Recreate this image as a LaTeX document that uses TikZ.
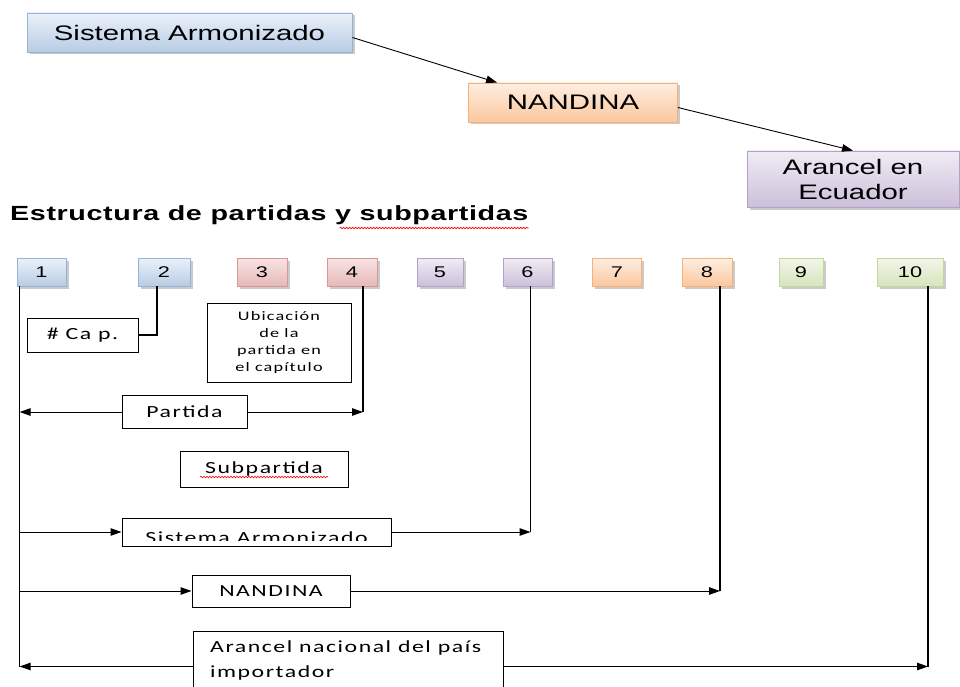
\documentclass[tikz,border=0pt]{standalone}
\usepackage{fontspec}
\setmainfont{Liberation Sans}
\newfontfamily\arialw[FakeStretch=1.4]{Liberation Sans}
\newfontfamily\arialt[FakeStretch=1.4,LetterSpace=3]{Liberation Sans}
\newfontfamily\calw[FakeStretch=1.4,LetterSpace=9]{Carlito}
\usetikzlibrary{arrows.meta,shadows,decorations.pathmorphing}

\definecolor{bluT}{HTML}{EBF1FA}\definecolor{bluB}{HTML}{B8CCE4}\definecolor{bluD}{HTML}{95B3D7}
\definecolor{rdT}{HTML}{F8E4E3}\definecolor{rdB}{HTML}{E6B9B8}\definecolor{rdD}{HTML}{D99694}
\definecolor{vioT}{HTML}{F0ECF5}\definecolor{vioB}{HTML}{CCC0DA}\definecolor{vioD}{HTML}{B3A2C7}
\definecolor{oraT}{HTML}{FEEEE2}\definecolor{oraB}{HTML}{FBC79D}\definecolor{oraD}{HTML}{F9B074}
\definecolor{grnT}{HTML}{F1F6E8}\definecolor{grnB}{HTML}{D7E4BD}\definecolor{grnD}{HTML}{C3D69B}

\tikzset{
  fancy/.style={top color=#1T, bottom color=#1B, draw=#1D, line width=0.8pt,
    drop shadow={shadow xshift=2.5pt, shadow yshift=-2.5pt, fill=black!35, opacity=0.6}},
  topbox/.style={fancy=#1, font=\arialw\fontsize{21}{25}\selectfont, inner sep=0pt, align=center},
  numbox/.style={fancy=#1, font=\arialw\fontsize{15.5}{17}\selectfont, minimum height=28pt, inner sep=0pt},
  plainbox/.style={draw, line width=1pt, font=\calw\fontsize{17}{25}\selectfont, inner sep=0pt},
  conn/.style={-{Triangle[length=11pt,width=7.5pt]}, line width=1pt},
  bar/.style={line width=1.2pt},
  wavy/.style={red, line width=0.6pt, decorate, decoration={snake, amplitude=0.8pt, segment length=3pt}}
}

\begin{document}
\begin{tikzpicture}[x=1pt,y=-1pt]
    \useasboundingbox (0,0) rectangle (960,687);

    % Top chain
    \node[topbox=blu, minimum width=325pt, minimum height=39pt] (sa) at (189.5,32.5) {Sistema Armonizado};
    \node[topbox=ora, minimum width=209pt, minimum height=39pt] (nandina) at (573,102.5) {NANDINA};
    \node[topbox=vio, minimum width=212pt, minimum height=56pt] (arancel) at (853,179) {Arancel en\\Ecuador};
    \draw[conn, line width=0.9pt] ([yshift=-5pt]sa.east) -- ([xshift=29pt]nandina.north west);
    \draw[conn, line width=0.9pt] ([yshift=-5pt]nandina.east) -- (arancel.north);

    % Title
    \node[anchor=base west, inner sep=0pt, font=\arialt\bfseries\fontsize{20.5}{24}\selectfont] (titulo) at (10,220)
        {Estructura de partidas y subpartidas};
    \draw[wavy] ([xshift=-189pt,yshift=-8pt]titulo.base east) -- ([yshift=-8pt]titulo.base east);

    % Digit boxes
    \foreach \num/\cx/\bw/\col in {1/41.5/49/blu, 2/164/52/blu, 3/262/50/rd, 4/352/50/rd, 5/440/46/vio,
        6/527.5/49/vio, 7/617/49/ora, 8/707/50/ora, 9/801/44/grn, 10/910/66/grn}
        \node[numbox=\col, minimum width=\bw pt] (n\num) at (\cx,272) {\num};

    % Labels
    \node[plainbox, minimum width=111pt, minimum height=34pt] (cap) at (82.5,335) {\# Ca p.};
    \node[plainbox, minimum width=144pt, minimum height=79pt, align=center,
        font=\calw\fontsize{13}{17}\selectfont] (ubic) at (279,342.5) {Ubicación\\de la\\partida en\\el capítulo};
    \node[plainbox, minimum width=125pt, minimum height=33pt] (partida) at (184.5,412) {Partida};
    \node[plainbox, minimum width=168pt, minimum height=36pt] (subp) at (264,469) {Subpartida};
    \draw[wavy] ([xshift=-64pt,yshift=-8pt]subp.center) -- ([xshift=64pt,yshift=-8pt]subp.center);
    \node[plainbox, minimum width=269pt, minimum height=28pt] (sa2) at (256.5,532) {};
    \begin{scope}
        \clip (sa2.north west) rectangle ([yshift=6pt]sa2.south east);
        \node[font=\calw\fontsize{17}{20}\selectfont, anchor=base] at ([yshift=-11pt]sa2.center) {Sistema Armonizado};
    \end{scope}
    \node[plainbox, minimum width=158pt, minimum height=32pt] (nan2) at (271,591) {NANDINA};
    \node[plainbox, anchor=north west, minimum width=310pt, minimum height=70pt] (arn) at (193,631) {};
    \node[anchor=north west, align=left, inner sep=0pt, font=\calw\fontsize{17}{25}\selectfont]
        at ([xshift=17pt,yshift=-9pt]arn.north west) {Arancel nacional del país\\importador};

    % Drop lines
    \coordinate (d1) at ([xshift=3pt]n1.south west);
    \coordinate (d2) at ([xshift=-7pt]n2.south);
    \coordinate (d4) at ([xshift=11pt]n4.south);
    \coordinate (d6) at ([xshift=3pt]n6.south);
    \coordinate (d8) at ([xshift=13pt]n8.south);
    \coordinate (d10) at ([xshift=18pt]n10.south);
    \draw[bar] (d1) -- (d1 |- arn.west);
    \draw[bar] (d2) |- (cap.east);
    \draw[bar] (d4) -- (d4 |- partida.east);
    \draw[bar] (d6) -- (d6 |- sa2.east);
    \draw[bar] (d8) -- (d8 |- nan2.east);
    \draw[bar] (d10) -- (d10 |- arn.east);

    % Arrows
    \draw[conn] (partida.west) -- (partida.west -| d1);
    \draw[conn] (partida.east) -- (partida.east -| d4);
    \draw[conn] (sa2.west -| d1) -- (sa2.west);
    \draw[conn] (sa2.east) -- (sa2.east -| d6);
    \draw[conn] (nan2.west -| d1) -- (nan2.west);
    \draw[conn] (nan2.east) -- (nan2.east -| d8);
    \draw[conn] (arn.west) -- (arn.west -| d1);
    \draw[conn] (arn.east) -- (arn.east -| d10);
\end{tikzpicture}
\end{document}
